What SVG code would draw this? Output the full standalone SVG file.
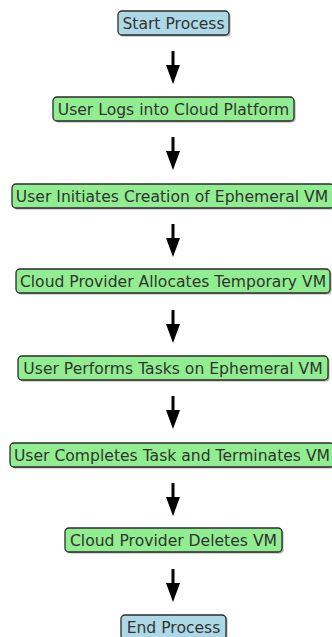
<svg xmlns="http://www.w3.org/2000/svg" width="332" height="637" viewBox="0 0 332 637">
  <style>
    .box { stroke: #2b2b2b; stroke-width: 1.3; }
    .term { fill: #add8e6; }
    .step { fill: #90ee90; }
    .shadow { fill: #555; opacity: 0.5; }
    .label { font-family: "DejaVu Sans", sans-serif; font-size: 15.6px; fill: #333; text-anchor: middle; }
    .shaft { stroke: #000; stroke-width: 3; }
    .head { fill: #000; }
  </style>
  <rect width="332" height="637" fill="#fff"/>

  <g id="connectors">
    <line class="shaft" x1="173" y1="51" x2="173" y2="66"/>
    <polygon class="head" points="166,65 180,65 173,84"/>
    <line class="shaft" x1="173" y1="137" x2="173" y2="152"/>
    <polygon class="head" points="166,151 180,151 173,170"/>
    <line class="shaft" x1="173" y1="224" x2="173" y2="239"/>
    <polygon class="head" points="166,238 180,238 173,257"/>
    <line class="shaft" x1="173" y1="310" x2="173" y2="325"/>
    <polygon class="head" points="166,324 180,324 173,343"/>
    <line class="shaft" x1="173" y1="396" x2="173" y2="411"/>
    <polygon class="head" points="166,410 180,410 173,429"/>
    <line class="shaft" x1="173" y1="483" x2="173" y2="498"/>
    <polygon class="head" points="166,497 180,497 173,516"/>
    <line class="shaft" x1="173" y1="569" x2="173" y2="584"/>
    <polygon class="head" points="166,583 180,583 173,602"/>
  </g>

  <g id="start">
    <rect class="shadow" x="119.5" y="12.5" width="111" height="24" rx="4"/>
    <rect class="box term" x="118" y="11" width="111" height="24" rx="4"/>
    <text class="label" x="173.5" y="28.5">Start Process</text>
  </g>
  <g id="login">
    <rect class="shadow" x="54.5" y="98.5" width="241" height="24" rx="4"/>
    <rect class="box step" x="53" y="97" width="241" height="24" rx="4"/>
    <text class="label" x="173.5" y="114.5">User Logs into Cloud Platform</text>
  </g>
  <g id="initiate">
    <rect class="shadow" x="13.5" y="185.5" width="322" height="24" rx="4"/>
    <rect class="box step" x="12" y="184" width="322" height="24" rx="4"/>
    <text class="label" x="172" y="201.5">User Initiates Creation of Ephemeral VM</text>
  </g>
  <g id="allocate">
    <rect class="shadow" x="17.5" y="270.5" width="314" height="24" rx="4"/>
    <rect class="box step" x="16" y="269" width="314" height="24" rx="4"/>
    <text class="label" x="173" y="286.5">Cloud Provider Allocates Temporary VM</text>
  </g>
  <g id="perform">
    <rect class="shadow" x="19.5" y="357.5" width="310" height="24" rx="4"/>
    <rect class="box step" x="18" y="356" width="310" height="24" rx="4"/>
    <text class="label" x="173" y="373.5">User Performs Tasks on Ephemeral VM</text>
  </g>
  <g id="complete">
    <rect class="shadow" x="11.5" y="444.5" width="324" height="24" rx="4"/>
    <rect class="box step" x="10" y="443" width="324" height="24" rx="4"/>
    <text class="label" x="172" y="460.5">User Completes Task and Terminates VM</text>
  </g>
  <g id="delete">
    <rect class="shadow" x="66.5" y="529.5" width="217" height="24" rx="4"/>
    <rect class="box step" x="65" y="528" width="217" height="24" rx="4"/>
    <text class="label" x="173.5" y="545.5">Cloud Provider Deletes VM</text>
  </g>
  <g id="end">
    <rect class="shadow" x="122.5" y="616.5" width="105" height="24" rx="4"/>
    <rect class="box term" x="121" y="615" width="105" height="24" rx="4"/>
    <text class="label" x="173.5" y="632.5">End Process</text>
  </g>
</svg>
